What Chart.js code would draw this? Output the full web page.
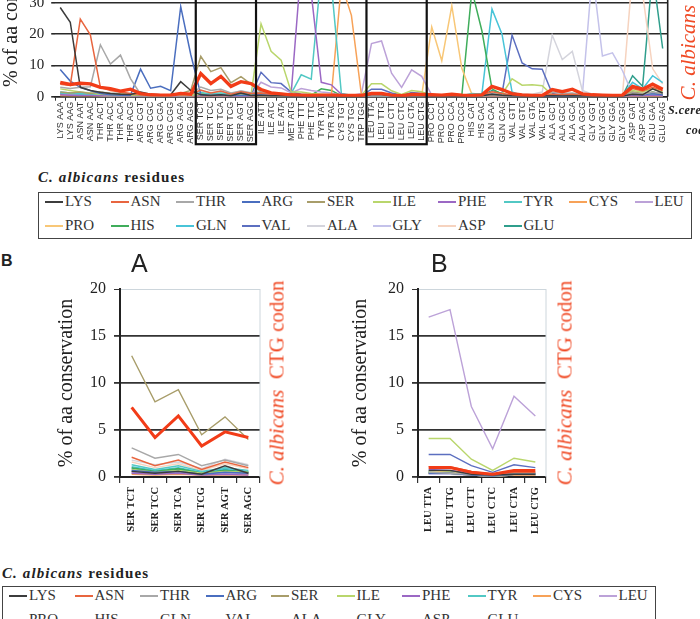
<!DOCTYPE html>
<html><head><meta charset="utf-8">
<script src="https://cdn.jsdelivr.net/npm/chart.js@4.4.1/dist/chart.umd.min.js"></script>
<style>
html,body{margin:0;padding:0;background:#fff;}
#root{position:absolute;left:0;top:0;width:700px;height:619px;overflow:hidden;background:#fff;}
canvas{position:absolute;}
.tx{position:absolute;white-space:nowrap;color:#222;}
.rot{position:absolute;white-space:nowrap;transform:translate(-50%,-50%) rotate(-90deg);font-family:'Liberation Serif',serif;color:#f04a25;}
.lgt{position:absolute;white-space:nowrap;font:bold 15px 'Liberation Serif',serif;letter-spacing:1.1px;color:#222;line-height:16px;}
.lg{position:absolute;height:47px;border:1.5px solid #444;box-sizing:border-box;}
.li{position:absolute;height:20px;line-height:20px;font:15px 'Liberation Serif',serif;color:#333;white-space:nowrap;}
.sw{display:inline-block;width:18px;height:2px;vertical-align:middle;margin-right:2px;position:relative;top:-1px;}
</style></head><body>
<div id="root">
<canvas id="cTop" width="700" height="260" style="left:0;top:-107px;"></canvas>
<canvas id="cA" width="300" height="280" style="left:0;top:270px;"></canvas>
<canvas id="cB" width="300" height="280" style="left:300px;top:270px;"></canvas>
</div>
<script>
// ---------- DATA ----------
const codons = ['LYS AAA','LYS AAG','ASN AAT','ASN AAC','THR ACT','THR ACC','THR ACA','THR ACG',
 'ARG CGT','ARG CGC','ARG CGA','ARG CGG','ARG AGA','ARG AGG',
 'SER TCT','SER TCC','SER TCA','SER TCG','SER AGT','SER AGC',
 'ILE ATT','ILE ATC','ILE ATA','MET ATG','PHE TTT','PHE TTC','TYR TAT','TYR TAC','CYS TGT','CYS TGC','TRP TGG',
 'LEU TTA','LEU TTG','LEU CTT','LEU CTC','LEU CTA','LEU CTG',
 'PRO CCT','PRO CCC','PRO CCA','PRO CCG','HIS CAT','HIS CAC','GLN CAA','GLN CAG',
 'VAL GTT','VAL GTC','VAL GTA','VAL GTG','ALA GCT','ALA GCC','ALA GCA','ALA GCG',
 'GLY GGT','GLY GGC','GLY GGA','GLY GGG','ASP GAT','ASP GAC','GLU GAA','GLU GAG'];
const residues = ['LYS','ASN','THR','ARG','SER','ILE','PHE','TYR','CYS','LEU','PRO','HIS','GLN','VAL','ALA','GLY','ASP','GLU'];
const topTicks = [0,10,20,30];
const smallTicks = [0,5,10,15,20];
const serRange = [14,20];
const leuRange = [31,37];

const lys = [28.5,23.8,3.0,2.0,1.4,1.0,0.8,0.7,1.5,0.8, 0.6,0.6,4.8,2.0,0.6,0.4,0.6,0.3,1.2,0.4,
 0.5,0.3,0.3,0.2,0.2,0.2,0.3,0.2,0.2,0.2, 0.2,0.7,0.7,0.3,0.2,0.3,0.3,0.2,0.2,0.2,
 0.2,0.3,0.3,0.8,0.5,0.3,0.2,0.2,0.2,0.3, 0.2,0.3,0.2,0.2,0.2,0.2,0.2,0.8,0.6,2.5, 1.2];
const asn = [4.0,3.6,24.8,19.8,3.0,2.0,1.5,1.0,0.8,0.6, 0.6,0.5,1.2,0.8,2.1,1.2,1.8,0.8,1.6,1.0,
 1.2,0.8,0.7,0.5,0.5,0.4,0.6,0.5,0.3,0.3, 0.3,1.1,1.1,0.6,0.3,0.5,0.5,0.4,0.3,0.4,
 0.3,0.4,0.5,1.6,1.0,0.5,0.4,0.3,0.3,0.8, 0.6,0.8,0.4,0.3,0.3,0.3,0.3,2.6,1.8,3.0, 2.0];
const thr = [3.0,2.6,3.0,3.2,16.6,10.4,13.3,5.8,0.8,0.5, 0.5,0.4,1.0,0.8,3.1,2.0,2.4,1.2,1.8,1.2,
 1.5,1.2,1.0,0.6,0.5,0.4,0.4,0.4,0.3,0.3, 0.3,0.5,0.4,0.3,0.2,0.3,0.3,0.5,0.4,0.5,
 0.3,0.3,0.3,0.8,0.5,0.4,0.3,0.3,0.3,1.5, 1.0,1.2,0.6,0.3,0.3,0.3,0.3,1.2,0.8,1.4, 1.0];
const arg = [8.7,5.0,3.0,2.0,1.0,0.6,0.5,0.5,8.8,2.7, 3.3,1.9,28.8,13.5,0.7,0.5,0.6,0.3,0.5,0.4,
 0.4,0.3,0.3,0.2,0.2,0.2,0.3,0.2,0.2,0.2, 0.3,0.4,0.4,0.2,0.1,0.3,0.3,0.3,0.2,0.2,
 0.2,0.3,0.3,0.9,0.5,0.3,0.2,0.2,0.2,0.3, 0.2,0.3,0.2,0.2,0.2,0.2,0.2,1.0,0.6,1.0, 0.6];
const ser = [1.5,1.2,1.5,1.0,1.5,1.0,1.0,0.8,0.4,0.3, 0.3,0.3,1.0,2.0,12.9,8.0,9.3,4.5,6.4,4.0,
 1.5,1.0,0.8,0.4,0.4,0.3,0.4,0.3,0.3,0.3, 0.3,0.4,0.4,0.2,0.1,0.3,0.3,0.3,0.3,0.3,
 0.2,0.3,0.3,0.6,0.4,0.3,0.2,0.2,0.2,0.6, 0.4,0.6,0.3,0.3,0.2,0.3,0.2,1.5,1.0,1.4, 0.8];
const ile = [2.5,2.0,1.5,1.2,0.8,0.6,0.5,0.5,0.5,0.4, 0.4,0.4,0.6,0.5,0.8,0.5,0.7,0.4,0.6,0.5,
 23.3,14.5,11.7,1.5,1.5,1.0,0.8,0.6,0.3,0.3, 0.5,4.1,4.1,1.9,0.7,2.0,1.6,0.4,0.3,0.3,
 0.3,0.3,0.3,0.8,0.8,5.7,3.7,3.8,3.5,0.5, 0.4,0.4,0.3,0.3,0.3,0.3,0.3,2.0,1.5,2.5, 1.5];
const phe = [0.6,0.5,0.4,0.4,0.3,0.3,0.3,0.3,0.2,0.2, 0.2,0.2,0.3,0.3,0.4,0.3,0.4,0.2,0.3,0.2,
 1.0,0.8,0.7,1.0,42,33,4.6,3.8,0.8,0.5, 0.4,0.8,0.7,0.4,0.2,0.5,0.4,0.2,0.2,0.2,
 0.2,0.3,0.3,0.5,0.3,0.3,0.3,0.2,0.2,0.2, 0.2,0.2,0.2,0.2,0.2,0.2,0.2,0.4,0.3,0.5, 0.3];
const tyr = [1.2,1.0,0.8,0.8,0.5,0.4,0.4,0.4,0.3,0.3, 0.3,0.3,0.4,0.4,1.3,0.8,1.2,0.6,1.0,0.7,
 0.6,0.5,0.5,1.0,7.0,5.6,40,36,1.0,0.5, 0.5,0.5,0.4,0.3,0.1,0.3,0.3,0.3,0.3,0.3,
 0.3,1.0,0.8,0.6,0.4,0.3,0.3,0.2,0.2,0.3, 0.2,0.3,0.2,0.2,0.2,0.2,0.2,0.6,0.4,0.6, 0.4];
const cys = [0.3,0.3,0.3,0.3,0.3,0.2,0.2,0.2,0.2,0.2, 0.2,0.2,0.2,0.2,0.3,0.2,0.3,0.2,0.2,0.2,
 0.3,0.2,0.2,0.3,0.3,0.3,0.3,0.4,36,26, 0.5,0.4,0.4,0.2,0.1,0.2,0.2,0.3,0.2,0.2,
 0.2,0.2,0.2,0.3,0.2,0.2,0.2,0.2,0.2,0.2, 0.2,0.2,0.2,0.2,0.2,0.2,0.2,0.3,0.2,0.3, 0.2];
const leu = [0.8,0.7,0.6,0.6,0.5,0.4,0.4,0.4,0.3,0.3, 0.3,0.3,0.4,0.4,0.5,0.4,0.5,0.3,0.4,0.3,
 4.6,3.1,2.8,1.2,2.6,2.0,1.5,1.2,0.4,0.4, 1.0,17.0,17.8,7.5,3.0,8.6,6.5,0.5,0.3,0.3,
 0.3,0.3,0.3,0.5,0.4,0.6,0.5,0.4,0.4,0.3, 0.3,0.3,0.3,0.3,0.3,0.3,0.3,0.4,0.3,0.5, 0.3];
const pro = [0.5,0.4,0.4,0.4,0.5,0.4,0.4,0.4,0.3,0.3, 0.3,0.3,0.3,0.3,0.4,0.3,0.4,0.2,0.3,0.3,
 0.3,0.3,0.3,0.2,0.2,0.2,0.2,0.2,0.3,0.3, 0.3,0.6,0.5,0.3,0.1,0.3,0.4,22.3,11.5,29,
 9.0,0.8,0.4,0.6,0.4,0.3,0.3,0.2,0.2,0.6, 0.4,0.5,0.3,0.3,0.3,0.3,0.3,0.4,0.3,0.4, 0.3];
const his = [0.6,0.5,0.5,0.5,0.4,0.3,0.3,0.3,0.3,0.3, 0.3,0.3,0.4,0.3,1.0,0.6,0.9,0.4,0.7,0.5,
 0.4,0.3,0.3,0.3,0.5,0.5,2.5,2.0,0.3,0.3, 0.3,0.6,0.6,0.3,0.2,0.4,0.4,0.3,0.3,0.3,
 0.5,34,21,2.5,0.8,0.3,0.3,0.2,0.2,0.3, 0.3,0.3,0.3,0.3,0.3,0.3,0.3,0.8,0.5,1.5, 0.8];
const gln = [1.5,1.2,1.0,1.0,0.5,0.4,0.4,0.4,0.3,0.3, 0.3,0.3,0.5,0.4,1.1,0.7,1.0,0.5,0.9,0.6,
 0.4,0.3,0.3,0.3,0.3,0.3,0.5,0.4,0.2,0.2, 0.2,0.5,0.4,0.3,0.1,0.3,0.3,0.3,0.3,0.3,
 0.3,0.6,1.0,28,20,1.5,0.4,0.3,0.3,0.4, 0.3,0.4,0.3,0.3,0.3,0.3,0.3,4.6,2.5,6.7, 4.5];
const val = [1.0,0.8,0.6,0.6,0.5,0.4,0.4,0.4,0.3,0.3, 0.3,0.3,0.4,0.4,0.6,0.4,0.5,0.3,0.5,0.4,
 7.8,4.5,4.2,1.5,0.8,0.6,0.5,0.4,0.3,0.3, 0.3,2.4,2.4,1.2,0.5,1.3,1.0,0.3,0.3,0.3,
 0.3,0.3,0.3,0.5,1.0,19.7,10.8,8.9,8.8,1.0, 0.5,0.5,0.4,0.3,0.3,0.3,0.3,0.6,0.4,0.6, 0.4];
const ala = [1.2,1.0,0.8,0.8,1.5,1.2,1.2,1.0,0.3,0.3, 0.3,0.3,0.5,0.6,1.8,1.3,1.6,0.9,1.9,1.3,
 0.6,0.5,0.5,0.4,0.3,0.3,0.3,0.3,0.3,0.3, 0.3,0.4,0.4,0.2,0.1,0.3,0.3,0.4,0.4,0.5,
 0.4,0.3,0.3,0.5,0.4,1.0,0.8,0.8,1.5,19.7, 11.9,14.5,2.0,0.8,0.6,0.6,0.5,1.0,0.8,1.0, 0.6];
const gly = [0.6,0.5,0.5,0.5,0.4,0.3,0.3,0.3,0.3,0.3, 0.3,0.3,0.4,0.4,0.5,0.3,0.4,0.3,0.5,0.3,
 0.3,0.3,0.3,0.3,0.2,0.2,0.2,0.2,0.2,0.2, 0.3,0.3,0.3,0.2,0.1,0.2,0.2,0.2,0.2,0.2,
 0.2,0.2,0.2,0.4,0.3,0.3,0.3,0.2,0.2,0.4, 0.3,0.4,0.5,40,13,14,8.3,0.8,0.5,0.8, 0.5];
const asp = [0.6,0.5,1.2,1.0,0.4,0.3,0.3,0.3,0.2,0.2, 0.2,0.2,0.3,0.3,1.6,1.0,1.4,0.7,1.4,0.9,
 0.3,0.3,0.3,0.2,0.2,0.2,0.2,0.2,0.2,0.2, 0.2,0.3,0.3,0.2,0.1,0.2,0.2,0.2,0.2,0.2,
 0.2,0.2,0.2,1.5,0.8,0.3,0.2,0.2,0.2,0.3, 0.2,0.3,0.2,0.2,0.2,0.2,0.5,40,33,9.0, 4.0];
const glu = [1.2,1.0,0.8,0.8,0.4,0.3,0.3,0.3,0.2,0.2, 0.2,0.2,0.3,0.3,0.9,0.6,0.8,0.4,0.8,0.5,
 0.3,0.3,0.3,0.2,0.2,0.2,0.2,0.2,0.2,0.2, 0.2,0.4,0.4,0.2,0.1,0.2,0.2,0.2,0.2,0.2,
 0.2,0.3,0.4,2.0,1.0,0.3,0.2,0.2,0.2,0.3, 0.2,0.3,0.2,0.2,0.2,0.2,0.3,6.7,3.3,40, 15.4];
const ctg = [4.6,3.9,4.3,4.1,3.0,2.6,1.8,2.4,1.0,0.6, 0.5,0.5,1.0,0.8,7.4,4.2,6.5,3.3,4.8,4.2,
 2.3,1.2,0.9,0.6,0.5,0.4,0.5,0.5,0.4,0.4, 0.4,1.0,1.0,0.5,0.3,0.7,0.7,0.6,0.5,0.8,
 0.5,0.4,0.6,3.3,2.3,1.0,0.6,0.4,0.4,2.3, 1.6,2.4,0.9,0.6,0.5,0.4,0.5,3.3,2.4,4.0, 2.4];

// ---------- STYLE ----------
const seriesData = [lys,asn,thr,arg,ser,ile,phe,tyr,cys,leu,pro,his,gln,val,ala,gly,asp,glu];
const colors = ['#3c3c3c','#e8653f','#a8a8a8','#4a6ebf','#a89d6a','#b9d66c','#9b68c4','#52c8c4','#f7a258',
 '#bca2d8','#f8c777','#3fad5b','#48c4d8','#5c6fc0','#d4d4dc','#c4c2ea','#f6d3bf','#2f9e8c'];
const red = '#f23c18';
const serifF = "'Liberation Serif', 'Times New Roman', serif";

Chart.defaults.animation = false;
Chart.defaults.responsive = false;
Chart.defaults.devicePixelRatio = 1;
Chart.defaults.plugins.legend.display = false;
Chart.defaults.plugins.tooltip.enabled = false;

function datasets(range, thin, thick) {
  const ds = residues.map((r, k) => ({
    label: r, data: seriesData[k].slice(range[0], range[1]), borderColor: colors[k],
    borderWidth: thin, pointRadius: 0, tension: 0, fill: false, order: 1
  }));
  ds.unshift({label: 'C. albicans CTG', data: ctg.slice(range[0], range[1]), borderColor: red,
    borderWidth: thick, pointRadius: 0, tension: 0, fill: false, order: 0});
  return ds;
}

const framePlugin = {
  id: 'frame',
  afterDatasetsDraw(chart, args, o) {
    const {ctx, chartArea: a, scales: {x}} = chart;
    ctx.save();
    if (o.right) {
      ctx.strokeStyle = o.right.color; ctx.lineWidth = o.right.width;
      ctx.beginPath(); ctx.moveTo(a.right, a.top); ctx.lineTo(a.right, a.bottom); ctx.stroke();
    }
    (o.boxes || []).forEach(([i0, i1]) => {
      const half = (x.getPixelForValue(1) - x.getPixelForValue(0)) / 2;
      const l = x.getPixelForValue(i0) - half, r = x.getPixelForValue(i1) + half;
      ctx.strokeStyle = '#111'; ctx.lineWidth = 2.2;
      ctx.strokeRect(l, a.top - 4, r - l, a.bottom + o.boxDrop - a.top + 4);
    });
    ctx.restore();
  }
};

// ---------- TOP CHART ----------
new Chart(document.getElementById('cTop'), {
  type: 'line',
  data: {labels: codons, datasets: datasets([0, 61], 1.5, 3.4)},
  options: {
    layout: {padding: {top: 10, right: 32.3, left: 0, bottom: 0}},
    scales: {
      x: {
        offset: true,
        afterFit: s => { s.height = 56.3; },
        grid: {drawOnChartArea: false, offset: true, tickLength: 4, color: '#333', lineWidth: 1},
        border: {display: true, color: '#222', width: 1.6},
        ticks: {autoSkip: false, minRotation: 90, maxRotation: 90, padding: 1,
          font: {family: "'Liberation Sans', Arial, sans-serif", size: 9}, color: '#333'}
      },
      y: {
        min: 0, max: 60,
        afterFit: s => { s.width = 55.2; },
        afterBuildTicks: s => { s.ticks = topTicks.map(v => ({value: v})); },
        grid: {color: '#2a2a2a', lineWidth: 1.6, tickLength: 4},
        border: {display: false},
        ticks: {padding: 7, font: {family: serifF, size: 15}, color: '#222'},
        title: {display: true, text: '% of aa conservation', padding: 0,
          font: {family: serifF, size: 20}, color: '#222'}
      }
    },
    plugins: {frame: {right: {color: '#222', width: 1.6}, boxes: [[14, 19], [31, 36]], boxDrop: 47.5}}
  },
  plugins: [framePlugin]
});

// ---------- SMALL CHARTS ----------
function small(id, range, yWidth, padRight, titlePad) {
  new Chart(document.getElementById(id), {
    type: 'line',
    data: {labels: codons.slice(range[0], range[1]), datasets: datasets(range, 1.4, 3)},
    options: {
      layout: {padding: {top: 19, right: padRight, left: 0, bottom: 0}},
      scales: {
        x: {
          offset: true,
          afterFit: s => { s.height = 73; },
          grid: {drawOnChartArea: false, offset: true, tickLength: 6, color: '#333', lineWidth: 1.2},
          border: {display: true, color: '#222', width: 2},
          ticks: {autoSkip: false, minRotation: 90, maxRotation: 90, padding: 4,
            font: {family: serifF, size: 10.5, weight: 'bold'}, color: '#222'}
        },
        y: {
          min: 0, max: 20,
          afterFit: s => { s.width = yWidth; },
          afterBuildTicks: s => { s.ticks = smallTicks.map(v => ({value: v})); },
          grid: {color: c => c.tick && c.tick.value === 20 ? '#cdd6dc' : '#333',
                 lineWidth: c => c.tick && c.tick.value === 20 ? 1 : 1.8,
                 tickColor: '#333', tickLength: 6},
          border: {display: true, color: '#222', width: 2},
          ticks: {padding: 8, font: {family: serifF, size: 16}, color: '#222'},
          title: {display: true, text: '% of aa conservation', padding: {top: titlePad, bottom: 0},
            font: {family: serifF, size: 20}, color: '#222'}
        }
      },
      plugins: {frame: {right: {color: '#cdd6dc', width: 1}}}
    },
    plugins: [framePlugin]
  });
}
small('cA', serRange, 120, 40, 54.6);
small('cB', leuRange, 118, 54, 48.6);

// ---------- TEXT / LEGENDS ----------
const root = document.getElementById('root');
function addText(html, cls, style) {
  const d = document.createElement('div'); d.className = cls; d.innerHTML = html;
  d.setAttribute('style', style); root.appendChild(d); return d;
}
const ctgTitle = '<i>C. albicans</i>&nbsp; CTG codon';
addText(ctgTitle, 'rot', 'left:688px;top:-2px;font-size:21px;');
addText(ctgTitle, 'rot', 'left:277px;top:383px;font-size:21px;');
addText(ctgTitle, 'rot', 'left:565px;top:383px;font-size:21px;');
addText('S.cerevisiae', 'tx', "left:668px;top:103px;font:bold italic 12px 'Liberation Serif',serif;letter-spacing:0.5px;");
addText('codons', 'tx', "left:686px;top:123px;font:bold italic 12px 'Liberation Serif',serif;letter-spacing:0.5px;");
addText('B', 'tx', "left:1px;top:252px;font:bold 16px 'Liberation Sans',Arial,sans-serif;");
addText('A', 'tx', "left:131px;top:249px;font:25px 'Liberation Sans',Arial,sans-serif;");
addText('B', 'tx', "left:431px;top:249px;font:25px 'Liberation Sans',Arial,sans-serif;");

function legend(x, titleY, boxY) {
  addText('<i>C. albicans</i> residues', 'lgt', `left:${x}px;top:${titleY}px;`);
  const box = addText('', 'lg', `left:${x}px;top:${boxY}px;width:654px;`);
  residues.forEach((r, k) => {
    const it = document.createElement('div');
    it.className = 'li';
    it.style.left = (6 + (k % 10) * 65.5) + 'px';
    it.style.top = (Math.floor(k / 10) * 24) + 'px';
    it.innerHTML = `<span class="sw" style="background:${colors[k]}"></span>${r}`;
    box.appendChild(it);
  });
}
legend(38, 169, 192);
legend(2, 565, 586);
</script>
</body></html>
